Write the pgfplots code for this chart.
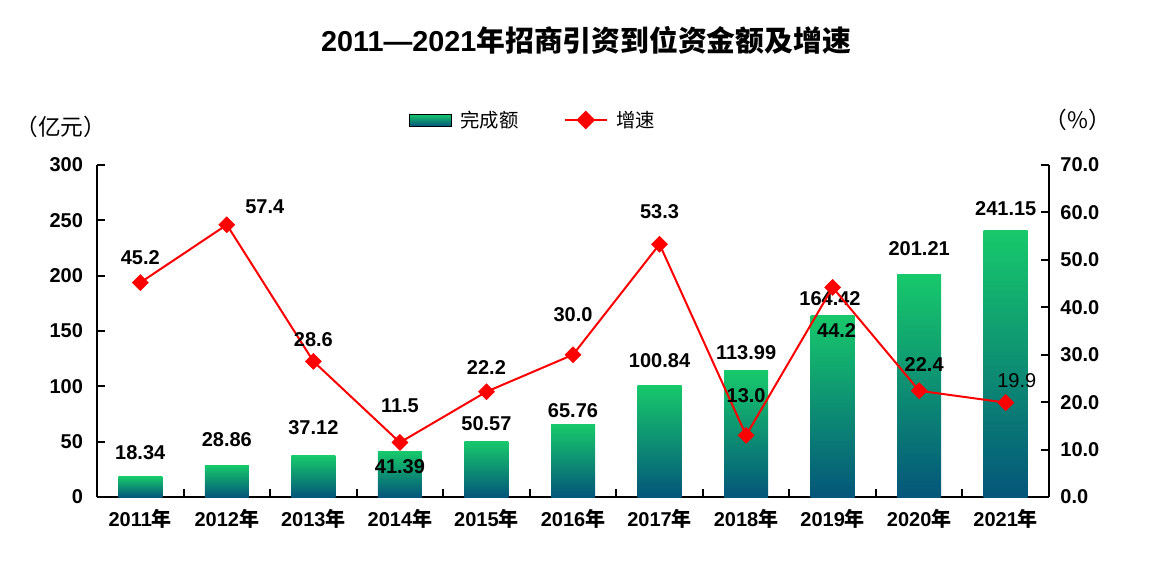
\documentclass[border=0pt]{standalone}
\usepackage{pgfplots}
\pgfplotsset{compat=1.18}
\usepackage{pgfplotstable}
\usepackage{fontspec}
\setmainfont{Liberation Sans}
\newfontfamily\cjk{Noto Sans CJK SC}
\definecolor{barTop}{RGB}{23,201,107}
\definecolor{barMid}{RGB}{19,170,111}
\definecolor{barBot}{RGB}{4,86,122}
\definecolor{lred}{RGB}{255,0,0}

\pgfplotstableread{
x y lab dx dy
0 18.34 18.34 0 18
1 28.86 28.86 0 18.75
2 37.12 37.12 0 21
3 41.39 41.39 0 -11.25
4 50.57 50.57 0 12.75
5 65.76 65.76 0 10.5
6 100.84 100.84 0 18.75
7 113.99 113.99 0 13.5
8 164.42 164.42 -2 12
9 201.21 201.21 0 19.5
10 241.15 241.15 0 16.5
}\bars

\pgfplotstableread{
x y lab dx dy
0 45.2 45.2 0 18.75
1 57.4 57.4 28.5 13.5
2 28.6 28.6 0 16.5
3 11.5 11.5 0 27.75
4 22.2 22.2 0 18
5 30.0 30.0 0 30
6 53.3 53.3 0 24.75
7 13.0 13.0 0 30
8 44.2 44.2 3 -32.25
9 22.4 22.4 3.75 19.5
10 19.9 \mdseries19.9 8.25 16.5
}\rates

\newcommand{\nf}{\fontsize{15}{18}\selectfont}

\begin{document}
\begin{tikzpicture}
\path[use as bounding box] (0,0) rectangle (882pt,440.25pt);

\node[font=\fontsize{21.6}{25}\selectfont] at (439.5pt,410.25pt) {\bfseries 2011—2021\cjk\bfseries 年招商引资到位资金额及增速};
\node[font=\cjk\fontsize{17}{20}\selectfont] at (45.5pt,345pt) {（亿元）};
\node[font=\cjk\fontsize{17}{20}\selectfont] at (808.5pt,350.25pt) {（\%）};

\begin{axis}[
  at={(72.75pt,67.5pt)}, anchor=south west,
  scale only axis, width=714pt, height=249pt,
  xmin=-0.5, xmax=10.5, ymin=0, ymax=300,
  axis x line*=bottom, axis y line*=left,
  axis line style={line width=1.5pt},
  every tick/.style={black, line width=1.5pt},
  major tick length=6pt,
  tick align=inside,
  xtick={-0.5,0.5,...,10.5}, xticklabels={},
  extra x ticks={0,1,...,10},
  extra x tick labels={{2011\cjk 年},{2012\cjk 年},{2013\cjk 年},{2014\cjk 年},{2015\cjk 年},{2016\cjk 年},{2017\cjk 年},{2018\cjk 年},{2019\cjk 年},{2020\cjk 年},{2021\cjk 年}},
  extra x tick style={major tick length=0pt, tick style={draw=none}},
  xticklabel style={font=\nf\bfseries, yshift=-6pt},
  ytick={0,50,...,300},
  yticklabel style={font=\nf\bfseries, xshift=-7pt},
  /pgf/number format/assume math mode=true,
  clip=false,
]
\pgfplotsinvokeforeach{0,...,10}{
\addplot[ybar, bar width=33pt, draw=none, top color=barTop, middle color=barMid, bottom color=barBot,
  restrict x to domain=#1:#1,
  point meta=explicit symbolic,
  visualization depends on={\thisrow{dx} \as \dx},
  visualization depends on={\thisrow{dy} \as \dy},
  nodes near coords,
  every node near coord/.append style={anchor=center, xshift=\dx pt, yshift=\dy pt, font=\nf\bfseries, text=black}
] table[x=x, y=y, meta=lab] {\bars};
}
\end{axis}

\begin{axis}[
  at={(72.75pt,67.5pt)}, anchor=south west,
  scale only axis, width=714pt, height=249pt,
  xmin=-0.5, xmax=10.5, ymin=0, ymax=70,
  axis x line=none, axis y line*=right,
  axis line style={line width=1.5pt},
  every tick/.style={black, line width=1.5pt},
  major tick length=6pt,
  tick align=inside,
  ytick={0,10,...,70},
  yticklabel={\pgfmathprintnumber[fixed,fixed zerofill,precision=1]{\tick}},
  yticklabel style={font=\nf\bfseries, xshift=5pt},
  /pgf/number format/assume math mode=true,
  clip=false,
  legend columns=2,
  legend style={at={(0.4585,1.1355)}, anchor=center, draw=none, fill=none,
    font=\cjk\fontsize{14.5}{17}\selectfont,
    /tikz/every odd column/.append style={column sep=4.5pt},
    /tikz/every even column/.append style={column sep=32pt}},
]
\addlegendimage{legend image code/.code={\fill[top color=barTop, middle color=barMid, bottom color=barBot] (0pt,-4.5pt) rectangle (31.5pt,4.5pt);}}
\addlegendentry{完成额}
\addplot[lred, line width=1.5pt, mark=square*, mark size=4.2pt, mark options={rotate=45, fill=lred, draw=lred, line width=0.5pt},
  legend image code/.code={\draw[lred, line width=1.5pt] (0pt,0pt) -- (31.5pt,0pt); \fill[lred] (15.75pt,6pt) -- (21.75pt,0pt) -- (15.75pt,-6pt) -- (9.75pt,0pt) -- cycle;},
  point meta=explicit symbolic,
  visualization depends on={\thisrow{dx} \as \dx},
  visualization depends on={\thisrow{dy} \as \dy},
  nodes near coords,
  every node near coord/.append style={anchor=center, xshift=\dx pt, yshift=\dy pt, font=\nf\bfseries, text=black}
] table[x=x, y=y, meta=lab] {\rates};
\addlegendentry{增速}
\end{axis}
\end{tikzpicture}
\end{document}
